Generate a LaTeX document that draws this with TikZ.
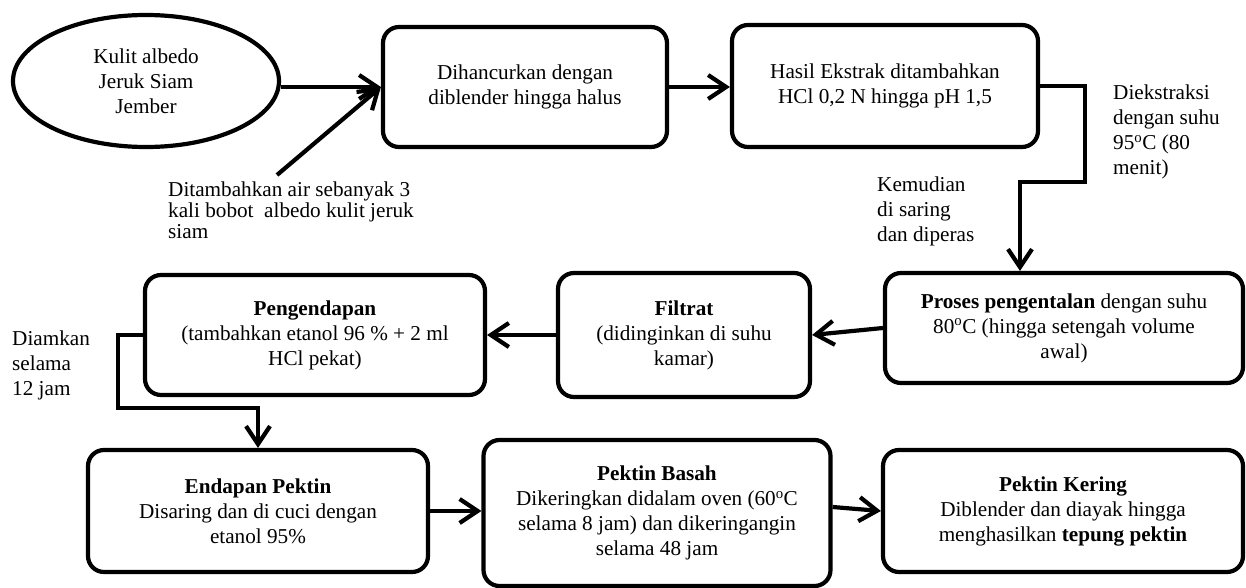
\documentclass[tikz,border=0pt]{standalone}
\usepackage{fontspec}
\setmainfont{Liberation Serif}
\usetikzlibrary{shapes.geometric,arrows.meta,positioning,calc}
\newcommand{\derajat}{\textsuperscript{o}C}

\begin{document}
\begin{tikzpicture}[x=1pt, y=-1pt,
        font=\fontsize{21.2}{25}\selectfont,
        proses/.style={draw, line width=4.2pt, rounded corners=16pt, align=center, inner sep=0pt},
        mulai/.style={draw, ellipse, line width=4.2pt, align=center, inner sep=0pt},
        ket/.style={align=left, anchor=west, inner sep=0pt},
        panah/.style={line width=4.2pt, -{Straight Barb[length=18pt,width=24pt]}}]
        \useasboundingbox (0,0) rectangle (1246,588);

        % bahan awal (top left)
        \node[mulai, minimum width=266pt, minimum height=132pt] (kulit) at (146,81)
            {Kulit albedo\\Jeruk Siam\\Jember};

        % top row
        \node[proses, minimum width=284pt, minimum height=120pt] (hancur) at (525,87)
            {Dihancurkan dengan\\diblender hingga halus};
        \node[proses, minimum width=306pt, minimum height=122pt] (ekstrak) at (885,86)
            {Hasil Ekstrak ditambahkan\\HCl 0,2 N hingga pH 1,5};

        % middle row (right to left)
        \node[proses, minimum width=358pt, minimum height=110pt] (kental) at (1064,328)
            {\textbf{Proses pengentalan} dengan suhu\\80\derajat{} (hingga setengah volume\\awal)};
        \node[proses, minimum width=252pt, minimum height=124pt] (filtrat) at (684,335)
            {\textbf{Filtrat}\\(didinginkan di suhu\\kamar)};
        \node[proses, minimum width=340pt, minimum height=120pt] (endap) at (315,335)
            {\textbf{Pengendapan}\\(tambahkan etanol 96 \% + 2 ml\\HCl pekat)};

        % bottom row
        \node[proses, minimum width=340pt, minimum height=122pt] (pektin) at (258,511)
            {\textbf{Endapan Pektin}\\Disaring dan di cuci dengan\\etanol 95\%};
        \node[proses, minimum width=347pt, minimum height=146pt] (basah) at (657,513)
            {\textbf{Pektin Basah}\\Dikeringkan didalam oven (60\derajat\\selama 8 jam) dan dikeringangin\\selama 48 jam};
        \node[proses, minimum width=360pt, minimum height=122pt] (kering) at (1063,511)
            {\textbf{Pektin Kering}\\Diblender dan diayak hingga\\menghasilkan \textbf{tepung pektin}};

        % keterangan
        \node[ket, font=\fontsize{21.2}{21}\selectfont] (air) at (168,210)
            {Ditambahkan air sebanyak 3\\kali bobot\ \ albedo kulit jeruk\\siam};
        \node[ket] (suhu) at (1113,132)
            {Diekstraksi\\dengan suhu\\95\derajat{} (80\\menit)};
        \node[ket] (saring) at (877,211)
            {Kemudian\\di saring\\dan diperas};
        \node[ket] (diam) at (12,365)
            {Diamkan\\selama\\12 jam};

        % titik belok
        \coordinate (awal) at (277,175);
        \coordinate (belok1) at (1085,182);
        \coordinate (belok2) at (1020,182);
        \coordinate (belok3) at (118,408);

        % panah
        \draw[panah] (hancur.west -| kulit.east) -- (hancur.west);
        \draw[panah] (awal) -- (hancur.west);
        \draw[panah] (hancur.east) -- (ekstrak.west |- hancur.east);
        \draw[panah] (ekstrak.east) -| (belok1) -- (belok2) -- (belok2 |- kental.north);
        \draw[panah] (kental.west) -- (filtrat.east);
        \draw[panah] (filtrat.west) -- (endap.east);
        \draw[panah] (endap.west) -| (belok3) -| (pektin.north);
        \draw[panah] (pektin.east) -- (pektin.east -| basah.west);
        \draw[panah] ($(basah.east)+(0,-6)$) -- (kering.west);

    \end{tikzpicture}
\end{document}
